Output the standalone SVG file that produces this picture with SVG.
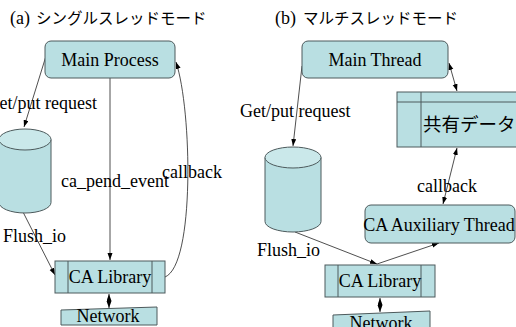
<svg xmlns="http://www.w3.org/2000/svg" width="516" height="327" viewBox="0 0 516 327">
<style>
.box{fill:#b9dfe2;stroke:#4d5a5c;stroke-width:1}
.top{fill:#cae8ea;stroke:#4d5a5c;stroke-width:1}
.in{fill:none;stroke:#4d5a5c;stroke-width:1}
.lbl{font-family:"Liberation Serif",serif;font-size:18px;fill:#000}
.mid{text-anchor:middle}
.jp{font-family:"Noto Sans CJK JP",sans-serif;fill:#000}
.c{fill:none;stroke:#222;stroke-width:0.8}
.a{marker-end:url(#ah)}
.b{marker-start:url(#ah);marker-end:url(#ah)}
</style>
<defs>
<marker id="ah" markerUnits="userSpaceOnUse" markerWidth="8" markerHeight="6" refX="7" refY="2.5" orient="auto-start-reverse">
<path d="M0,0 L7,2.5 L0,5 z" fill="#000"/>
</marker>
</defs>
<rect width="516" height="327" fill="#fff"/>

<g id="title-a">
<text x="10" y="24" class="lbl">(a)</text>
<text x="36" y="24" class="jp" font-size="15.5">シングルスレッドモード</text>
</g>
<g id="title-b">
<text x="275" y="24" class="lbl">(b)</text>
<text x="303" y="24" class="jp" font-size="15.5">マルチスレッドモード</text>
</g>

<g id="connectors">
<path class="c a" d="M46,56 L24,127"/>
<path class="c a" d="M110,78 L110,260"/>
<path class="c a" d="M165,277 C195,265 192,110 176,62"/>
<path class="c a" d="M23,212 L55,275"/>
<path class="c b" d="M109,294 L109,308"/>
<path class="c a" d="M302,66 L293,146"/>
<path class="c b" d="M449,63 L457,91"/>
<path class="c b" d="M457,148 L443,204"/>
<path class="c a" d="M295,232 L377,264"/>
<path class="c a" d="M377,264 L439,243"/>
<path class="c b" d="M380,298 L380,312"/>
</g>

<g id="main-process">
<rect x="45" y="41" width="130" height="37" rx="6" class="box"/>
<text x="110" y="66" class="lbl mid">Main Process</text>
</g>
<g id="db-left">
<path d="M-1,139.5 L-1,202.5 A26,10.5 0 0 0 51,202.5 L51,139.5" class="box"/>
<ellipse cx="25" cy="139.5" rx="26" ry="10.5" class="top"/>
</g>
<g id="ca-library-a">
<rect x="55" y="261" width="110" height="32" class="box"/>
<line x1="68" y1="261" x2="68" y2="293" class="in"/>
<line x1="152" y1="261" x2="152" y2="293" class="in"/>
<text x="110" y="283" class="lbl mid">CA Library</text>
</g>
<g id="network-a">
<polygon points="61,310 157,307 157,325 61,325" class="box"/>
<text x="108" y="322" class="lbl mid">Network</text>
</g>

<g id="main-thread">
<rect x="302" y="41" width="146" height="37" rx="6" class="box"/>
<text x="375" y="66" class="lbl mid">Main Thread</text>
</g>
<g id="shared-data">
<rect x="397" y="92" width="125" height="55" class="box"/>
<line x1="397" y1="102" x2="522" y2="102" class="in"/>
<line x1="421" y1="92" x2="421" y2="147" class="in"/>
<text x="423" y="131" class="jp" font-size="18.5">共有データ</text>
</g>
<g id="db-right">
<path d="M265,157.5 L265,221.5 A28,10.5 0 0 0 321,221.5 L321,157.5" class="box"/>
<ellipse cx="293" cy="157.5" rx="28" ry="10.5" class="top"/>
</g>
<g id="ca-aux">
<rect x="365" y="205" width="150" height="38" rx="6" class="box"/>
<text x="439" y="231" class="lbl mid">CA Auxiliary Thread</text>
</g>
<g id="ca-library-b">
<rect x="325" y="265" width="110" height="32" class="box"/>
<line x1="338" y1="265" x2="338" y2="297" class="in"/>
<line x1="421" y1="265" x2="421" y2="297" class="in"/>
<text x="380" y="287" class="lbl mid">CA Library</text>
</g>
<g id="network-b">
<polygon points="333,315 430,311 430,332 333,332" class="box"/>
<text x="381" y="329" class="lbl mid">Network</text>
</g>

<g id="labels">
<text x="97" y="109" class="lbl" text-anchor="end">Get/put request</text>
<text x="61" y="187" class="lbl">ca_pend_event</text>
<text x="162" y="178" class="lbl">callback</text>
<text x="3" y="242" class="lbl">Flush_io</text>
<text x="240" y="117" class="lbl">Get/put request</text>
<text x="417" y="192" class="lbl">callback</text>
<text x="257" y="256" class="lbl">Flush_io</text>
</g>
</svg>
